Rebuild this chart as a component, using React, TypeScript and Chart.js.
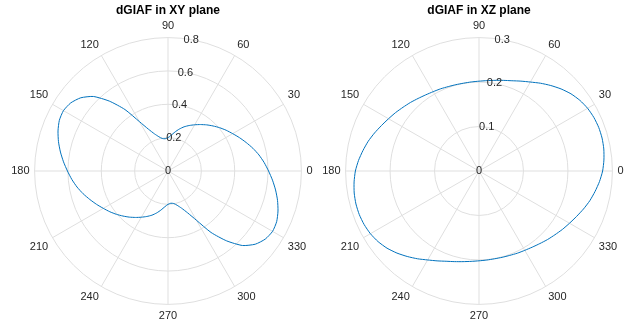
import React, { useEffect, useRef } from "react";
import { Chart, registerables } from "chart.js";

Chart.register(...registerables);

// Angles in degrees (MATLAB polar convention: 0 at right, counter-clockwise), 5° step
const ANGLES: number[] = Array.from({ length: 72 }, (_, i) => i * 5);

// dGIAF in XY plane, radius at ANGLES
const XY_VALUES: number[] = [
  0.603, 0.579, 0.554, 0.527, 0.499, 0.473, 0.448, 0.426, 0.404, 0.382, 0.361, 0.340,
  0.320, 0.301, 0.282, 0.260, 0.237, 0.215, 0.200, 0.194, 0.198, 0.213, 0.237, 0.276,
  0.341, 0.450, 0.547, 0.632, 0.683, 0.712, 0.724, 0.719, 0.702, 0.680, 0.655, 0.629,
  0.603, 0.579, 0.554, 0.527, 0.499, 0.473, 0.448, 0.426, 0.404, 0.382, 0.361, 0.340,
  0.320, 0.301, 0.282, 0.260, 0.237, 0.215, 0.200, 0.194, 0.198, 0.213, 0.237, 0.276,
  0.341, 0.450, 0.547, 0.632, 0.683, 0.712, 0.724, 0.719, 0.702, 0.680, 0.655, 0.629,
];

// dGIAF in XZ plane, radius at ANGLES
const XZ_VALUES: number[] = [
  0.278, 0.282, 0.285, 0.2865, 0.2865, 0.285, 0.282, 0.277, 0.270, 0.261, 0.251, 0.241,
  0.231, 0.223, 0.216, 0.211, 0.207, 0.204, 0.202, 0.201, 0.2005, 0.201, 0.202, 0.204,
  0.206, 0.209, 0.213, 0.218, 0.223, 0.229, 0.235, 0.242, 0.250, 0.258, 0.265, 0.272,
  0.278, 0.282, 0.285, 0.2865, 0.2865, 0.285, 0.282, 0.277, 0.270, 0.261, 0.251, 0.241,
  0.231, 0.223, 0.216, 0.211, 0.207, 0.204, 0.202, 0.201, 0.2005, 0.201, 0.202, 0.204,
  0.206, 0.209, 0.213, 0.218, 0.223, 0.229, 0.235, 0.242, 0.250, 0.258, 0.265, 0.272,
];

const XY_TITLE = "dGIAF in XY plane";
const XZ_TITLE = "dGIAF in XZ plane";
const XY_RMAX = 0.8;
const XY_RSTEP = 0.2;
const XZ_RMAX = 0.3;
const XZ_RSTEP = 0.1;
const ANGLE_LABEL_STEP = 30;
const R_LABEL_ANGLE = 80;

const FONT = "'Liberation Sans', Arial, Helvetica, sans-serif";
const TEXT_COLOR = "#262626";
const GRID_COLOR = "#dfdfdf";
const LINE_COLOR = "#0072BD";

// Radar index i runs clockwise from the top: MATLAB angle = 90 - 5*i
function buildRadar(values: number[]) {
  const labels: string[] = [];
  const data: number[] = [];
  for (let i = 0; i < ANGLES.length; i++) {
    const a = (((90 - i * 5) % 360) + 360) % 360;
    const k = ANGLES.indexOf(a);
    labels.push(a % ANGLE_LABEL_STEP === 0 ? String(a) : "");
    data.push(values[k]);
  }
  return { labels, data };
}

const rTickLabels = {
  id: "rTickLabels",
  afterDatasetsDraw(chart: any) {
    const s = chart.scales.r;
    const ctx = chart.ctx;
    ctx.save();
    ctx.font = `11px ${FONT}`;
    ctx.fillStyle = TEXT_COLOR;
    ctx.textAlign = "center";
    ctx.textBaseline = "middle";
    const th = (R_LABEL_ANGLE * Math.PI) / 180;
    s.ticks.forEach((t: any) => {
      const d = s.getDistanceFromCenterForValue(t.value);
      const x = s.xCenter + d * Math.cos(th);
      const y = s.yCenter - d * Math.sin(th);
      const txt = String(Number(t.value.toFixed(3)));
      ctx.fillText(txt, x, y);
    });
    ctx.restore();
  },
};

function PolarChart(props: { values: number[]; title: string; rmax: number; rstep: number; left: number }) {
  const ref = useRef<HTMLCanvasElement | null>(null);
  useEffect(() => {
    if (!ref.current) return;
    const { labels, data } = buildRadar(props.values);
    const chart = new Chart(ref.current, {
      type: "radar",
      data: {
        labels,
        datasets: [
          {
            data,
            borderColor: LINE_COLOR,
            borderWidth: 1,
            pointRadius: 0,
            pointHoverRadius: 0,
            fill: false,
            tension: 0.2,
          },
        ],
      },
      options: {
        responsive: false,
        animation: false,
        layout: { padding: { top: 0, bottom: 4, left: 0, right: 0 } },
        plugins: {
          legend: { display: false },
          tooltip: { enabled: false },
          title: {
            display: true,
            text: props.title,
            color: "#000",
            font: { family: FONT, size: 12, weight: "bold" },
            padding: { top: 3, bottom: 2 },
          },
        },
        scales: {
          r: {
            min: 0,
            max: props.rmax,
            ticks: { display: false, stepSize: props.rstep },
            grid: { circular: true, color: GRID_COLOR, lineWidth: 1 },
            angleLines: {
              display: true,
              color: GRID_COLOR,
              lineWidth: (c: any) => (c.index % 6 === 0 ? 1 : 0),
            },
            pointLabels: {
              display: true,
              color: TEXT_COLOR,
              padding: 5,
              font: { family: FONT, size: 11 },
            },
          },
        },
      } as any,
      plugins: [rTickLabels],
    });
    return () => chart.destroy();
  }, []);
  return (
    <div style={{ position: "absolute", left: props.left, top: 0, width: 352, height: 327 }}>
      <canvas ref={ref} width={352} height={327} style={{ width: 352, height: 327 }} />
    </div>
  );
}

export default function App() {
  useEffect(() => {
    document.body.style.margin = "0";
  }, []);
  return (
    <div style={{ position: "relative", width: 629, height: 327, overflow: "hidden", background: "#fff" }}>
      <PolarChart values={XY_VALUES} title={XY_TITLE} rmax={XY_RMAX} rstep={XY_RSTEP} left={-8} />
      <PolarChart values={XZ_VALUES} title={XZ_TITLE} rmax={XZ_RMAX} rstep={XZ_RSTEP} left={303} />
    </div>
  );
}
